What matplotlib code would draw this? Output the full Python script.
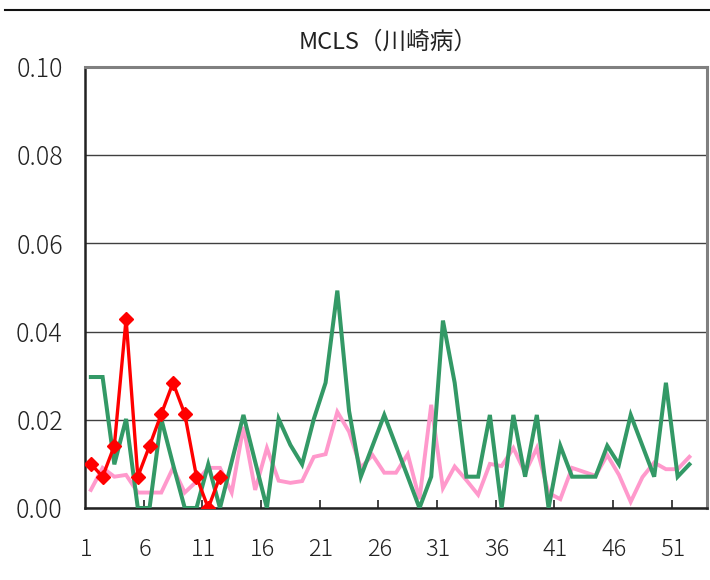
import matplotlib
matplotlib.use("Agg")
import matplotlib.pyplot as plt
from matplotlib.lines import Line2D
import numpy as np

plt.rcParams['font.family'] = ['Noto Sans CJK JP', 'DejaVu Sans']

title = "MCLS（川崎病）"
n_weeks = 53
week_labels = [1, 6, 11, 16, 21, 26, 31, 36, 41, 46, 51]
y_ticks = [0.00, 0.02, 0.04, 0.06, 0.08, 0.10]

pink_values = [0.0041, 0.0091, 0.0071, 0.0075, 0.0035, 0.0035, 0.0035, 0.0091, 0.0035, 0.0060,
               0.0091, 0.0091, 0.0035, 0.0184, 0.0041, 0.0136, 0.0062, 0.0057, 0.0061, 0.0116,
               0.0122, 0.0218, 0.0173, 0.0091, 0.0120, 0.0080, 0.0080, 0.0122, 0.0020, 0.0234,
               0.0045, 0.0094, 0.0063, 0.0030, 0.0100, 0.0095, 0.0136, 0.0080, 0.0136, 0.0034,
               0.0020, 0.0091, 0.0082, 0.0073, 0.0120, 0.0075, 0.0014, 0.0070, 0.0103, 0.0088,
               0.0088, 0.0116]

green_values = [0.0297, 0.0297, 0.0099, 0.0202, 0.0, 0.0, 0.0202, 0.0099, 0.0, 0.0,
                0.0099, 0.0, 0.0105, 0.0211, 0.0105, 0.0, 0.0202, 0.0143, 0.0099, 0.0202,
                0.0284, 0.0493, 0.0220, 0.0071, 0.0141, 0.0211, 0.0141, 0.0071, 0.0, 0.0071,
                0.0425, 0.0284, 0.0071, 0.0071, 0.0211, 0.0, 0.0211, 0.0071, 0.0211, 0.0,
                0.0141, 0.0071, 0.0071, 0.0071, 0.0141, 0.0099, 0.0211, 0.0141, 0.0071, 0.0284,
                0.0071, 0.0099]

red_values = [0.0100, 0.0071, 0.0141, 0.0429, 0.0071, 0.0141, 0.0213, 0.0284, 0.0213, 0.0071,
              0.0, 0.0071]

fig = plt.figure(figsize=(7.1, 5.8), dpi=100)
ax = fig.add_axes([85/710, 1-508/580, (707-85)/710, (508-67)/580])

wk_p = np.arange(1, len(pink_values)+1)
wk_g = np.arange(1, len(green_values)+1)
wk_r = np.arange(1, len(red_values)+1)

ax.plot(wk_p, pink_values, color='#FF99CC', lw=2.8, zorder=2, solid_joinstyle='miter')
ax.plot(wk_g, green_values, color='#339966', lw=2.9, zorder=3, solid_joinstyle='miter')
ax.plot(wk_r, red_values, color='#FF0000', lw=2.4, marker='D', ms=7, zorder=4)

ax.set_xlim(0.5, n_weeks + 0.5)
ax.set_ylim(0, 0.10)
ax.set_yticks(y_ticks)
ax.set_yticklabels([f"{v:.2f}" for v in y_ticks], fontsize=18, color='#222222', fontweight='light')
ax.yaxis.grid(True, color='#404040', lw=1.0)
ax.set_axisbelow(True)
ax.tick_params(axis='y', length=0, pad=16)

ax.set_xticks([w - 0.4 for w in week_labels])
ax.set_xticklabels([str(w) for w in week_labels], fontsize=17, color='#222222', fontweight='light')
ax.set_xticks(np.arange(5.5, n_weeks, 5), minor=True)
ax.tick_params(axis='x', which='major', length=0, pad=21)
ax.tick_params(axis='x', which='minor', direction='in', length=6, width=1.2, color='#222222')

for s in ['left', 'bottom']:
    ax.spines[s].set_color('#222222')
    ax.spines[s].set_linewidth(1.8)
for s in ['top', 'right']:
    ax.spines[s].set_color('#808080')
    ax.spines[s].set_linewidth(2.2)

fig.text(388/710, 1-42/580, title, fontsize=17, ha='center', va='center', color='#222222')
fig.add_artist(Line2D([5/710, 1.0], [1-10/580, 1-10/580], color='#111111', lw=1.5,
                      transform=fig.transFigure))

fig.savefig("out.png", dpi=100)
